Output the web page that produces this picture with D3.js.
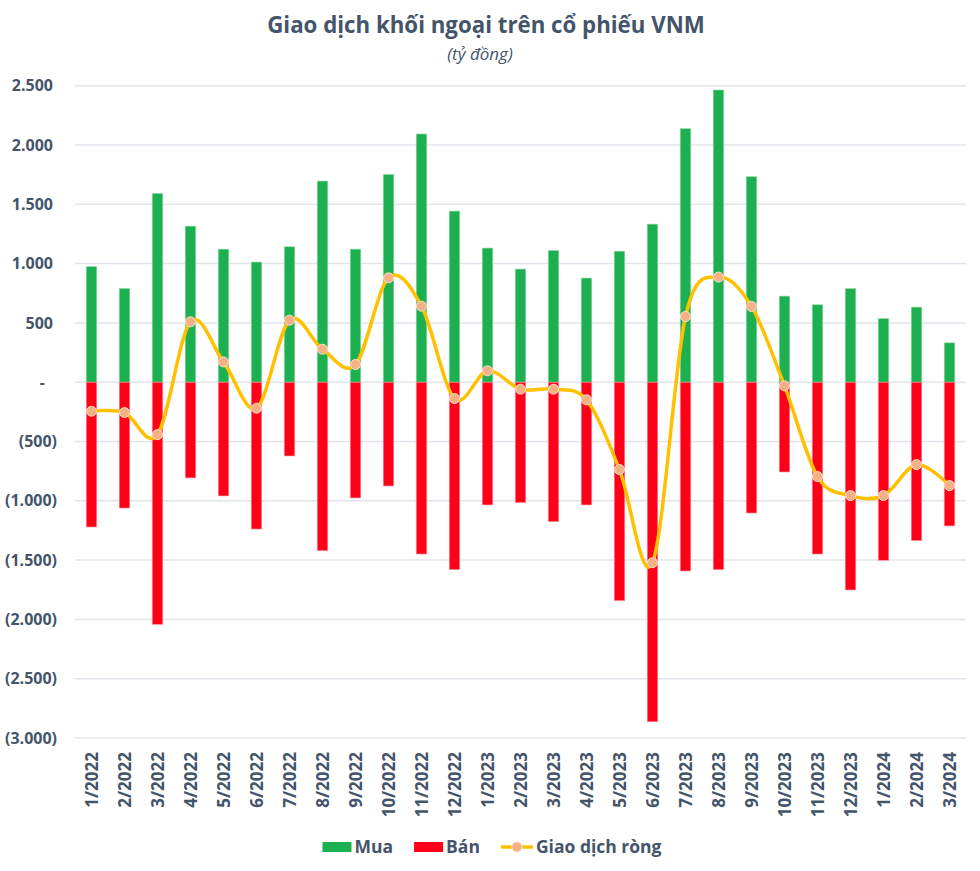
<!DOCTYPE html>
<html>
<head>
<meta charset="utf-8">
<script src="https://cdn.jsdelivr.net/npm/d3@7"></script>
<style>
  html, body { margin: 0; padding: 0; background: #ffffff; }
  svg { display: block; font-family: "Open Sans", "Noto Sans", sans-serif; }
</style>
</head>
<body>
<svg id="chart" width="980" height="871"></svg>
<script>
const months = ["1/2022","2/2022","3/2022","4/2022","5/2022","6/2022","7/2022","8/2022","9/2022","10/2022","11/2022","12/2022",
                "1/2023","2/2023","3/2023","4/2023","5/2023","6/2023","7/2023","8/2023","9/2023","10/2023","11/2023","12/2023",
                "1/2024","2/2024","3/2024"];
const buy  = [975, 790, 1592, 1316, 1122, 1013, 1142, 1696, 1122, 1752, 2093, 1443,
              1131, 954, 1111, 878, 1105, 1333, 2138, 2464, 1733, 726, 653, 790,
              537, 633, 332];
const sell = [-1221, -1061, -2042, -807, -959, -1238, -622, -1421, -976, -875, -1449, -1581,
              -1035, -1015, -1176, -1035, -1842, -2863, -1592, -1581, -1103, -757, -1449, -1752,
              -1502, -1336, -1212];
const net  = [-245, -256, -442, 509, 171, -219, 523, 278, 149, 880, 641, -138,
              96, -59, -59, -149, -737, -1522, 554, 886, 639, -31, -796, -956,
              -956, -695, -872];
const yTicks = [2500, 2000, 1500, 1000, 500, 0, -500, -1000, -1500, -2000, -2500, -3000];
const title = "Giao dịch khối ngoại trên cổ phiếu VNM";
const subtitle = "(tỷ đồng)";
const legendLabels = ["Mua", "Bán", "Giao dịch ròng"];

const textColor = "#44546A";
const green = "#1DB050";
const red = "#FF0019";
const lineColor = "#FFC000";
const dotFill = "#F4B183";

const svg = d3.select("#chart");
const plotLeft = 75, plotRight = 966, plotTop = 85.7, plotBottom = 738;

const x = d3.scaleBand().domain(months).range([plotLeft, plotRight]).paddingInner(0.68).paddingOuter(0.34);
const y = d3.scaleLinear().domain([-3000, 2500]).range([plotBottom, plotTop]);

// gridlines
svg.append("g").selectAll("line").data(yTicks).join("line")
  .attr("x1", plotLeft).attr("x2", plotRight)
  .attr("y1", d => y(d)).attr("y2", d => y(d))
  .attr("stroke", "#E1E4EA").attr("stroke-width", 1.5);

// y axis labels
const fmt = v => {
  if (v === 0) return "-";
  const s = d3.format(",")(Math.abs(v)).replace(/,/g, ".");
  return v < 0 ? "(" + s + ")" : s;
};
const yAxis = d3.axisLeft(y).tickValues(yTicks).tickFormat(fmt).tickSize(0).tickPadding(0);
const yg = svg.append("g").attr("transform", `translate(57,0)`).call(yAxis);
yg.select(".domain").remove();
yg.selectAll("text")
  .attr("fill", textColor).attr("font-size", 16).attr("font-weight", 700)
  .attr("font-family", "'Open Sans', sans-serif")
  .attr("x", d => d > 0 ? -4 : (d === 0 ? -12 : 0));

// bars
svg.append("g").selectAll("rect").data(months).join("rect")
  .attr("x", d => x(d)).attr("width", x.bandwidth())
  .attr("y", (d, i) => y(buy[i])).attr("height", (d, i) => y(0) - y(buy[i]))
  .attr("fill", green).attr("stroke", "#9ED9B0").attr("stroke-width", 0.6);
svg.append("g").selectAll("rect").data(months).join("rect")
  .attr("x", d => x(d)).attr("width", x.bandwidth())
  .attr("y", y(0)).attr("height", (d, i) => y(sell[i]) - y(0))
  .attr("fill", red).attr("stroke", "#FF9AA5").attr("stroke-width", 0.6);

// net line
const cx = d => x(d) + x.bandwidth() / 2;
const line = d3.line().x((d, i) => cx(months[i])).y(d => y(d)).curve(d3.curveCardinal.tension(0));
svg.append("path").datum(net).attr("d", line)
  .attr("fill", "none").attr("stroke", lineColor).attr("stroke-width", 3.5)
  .attr("stroke-linejoin", "round").attr("stroke-linecap", "round");
svg.append("g").selectAll("circle").data(net).join("circle")
  .attr("cx", (d, i) => cx(months[i])).attr("cy", d => y(d)).attr("r", 5)
  .attr("fill", dotFill).attr("stroke", "#FBE0CF").attr("stroke-width", 1);

// x axis labels
const xAxis = d3.axisBottom(x).tickSize(0).tickPadding(0);
const xg = svg.append("g").attr("transform", `translate(0,${plotBottom})`).call(xAxis);
xg.select(".domain").remove();
xg.selectAll("text")
  .attr("fill", textColor).attr("font-size", 17).attr("font-weight", 700)
  .attr("font-family", "'Open Sans', sans-serif")
  .attr("text-anchor", "end")
  .attr("transform", "translate(0,14) rotate(-90)")
  .attr("x", 0).attr("y", 0).attr("dy", "0.36em");

// title
const t = svg.append("text").attr("x", 486).attr("y", 33).attr("text-anchor", "middle")
  .attr("fill", textColor).attr("font-size", 21).attr("font-weight", 700).text(title);
const tw = t.node().getComputedTextLength();
t.attr("font-size", 21 * 438 / tw);
svg.append("text").attr("x", 480).attr("y", 60).attr("text-anchor", "middle")
  .attr("fill", textColor).attr("font-size", 17).attr("font-style", "italic").text(subtitle);

// legend
const lg = svg.append("g");
const ly = 847;
let cur = 0;
legendLabels.forEach((lab, i) => {
  const g = lg.append("g").attr("transform", `translate(${cur},0)`);
  if (i < 2) {
    g.append("rect").attr("x", 0).attr("y", ly - 5).attr("width", 29).attr("height", 10)
      .attr("fill", i === 0 ? green : red);
  } else {
    g.append("line").attr("x1", 0).attr("x2", 32).attr("y1", ly).attr("y2", ly)
      .attr("stroke", lineColor).attr("stroke-width", 3.5);
    g.append("circle").attr("cx", 16).attr("cy", ly).attr("r", 5)
      .attr("fill", dotFill).attr("stroke", "#FBE0CF").attr("stroke-width", 1);
  }
  const kw = i < 2 ? 29 : 32;
  const tx = g.append("text").attr("x", kw + 3).attr("y", ly).attr("dy", "0.36em")
    .attr("fill", textColor).attr("font-size", 17.5).attr("font-weight", 700).text(lab);
  const w = kw + 3 + tx.node().getComputedTextLength();
  cur += w + 21;
});
const totalW = cur - 21;
lg.attr("transform", `translate(${492 - totalW / 2},0)`);
</script>
</body>
</html>
